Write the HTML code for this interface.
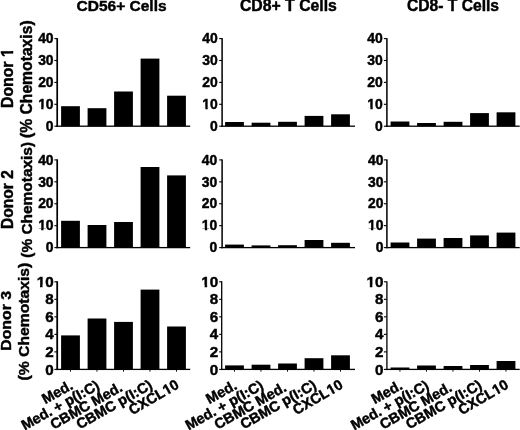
<!DOCTYPE html>
<html><head><meta charset="utf-8"><title>Chemotaxis</title>
<style>
html,body{margin:0;padding:0;background:#fff;}
body{width:520px;height:430px;overflow:hidden;}
svg{display:block;font-family:"Liberation Sans",sans-serif;font-weight:bold;fill:#000;}
text{font-kerning:none;stroke:#000;stroke-width:0.45px;stroke-linejoin:round;}
</style></head><body>
<svg width="520" height="430" viewBox="0 0 520 430">
<rect x="0" y="0" width="520" height="430" fill="#fff"/>
<text x="121.6" y="11.4" font-size="15.5" text-anchor="middle">CD56+ Cells</text>
<text x="288.4" y="11.0" font-size="15.8" text-anchor="middle">CD8+ T Cells</text>
<text x="453" y="10.8" font-size="15.65" text-anchor="middle">CD8- T Cells</text>
<text transform="translate(12.9,108.0) rotate(-90)" font-size="15.8" text-anchor="start">Donor 1</text>
<g transform="translate(12.9,108.0) rotate(-90)" fill="#fff"><rect x="50.90" y="-2.11" width="3.47" height="3.31"/><rect x="56.98" y="-2.11" width="3.17" height="3.31"/></g>
<text transform="translate(31.7,79.2) rotate(-90)" font-size="15.7" text-anchor="middle">(% Chemotaxis)</text>
<rect x="56.35" y="38.10" width="1.7" height="88.75"/>
<rect x="56.35" y="125.55" width="133.85" height="1.3"/>
<rect x="54.40" y="125.65" width="2.8" height="1.1"/>
<text x="53.60" y="130.90" font-size="13.9" text-anchor="end">0</text>
<rect x="54.40" y="103.75" width="2.8" height="1.1"/>
<text x="53.60" y="109.00" font-size="13.9" text-anchor="end">10</text>
<g transform="translate(53.60,109.00)" fill="#fff"><rect x="-15.59" y="-1.92" width="3.15" height="3.12"/><rect x="-10.09" y="-1.92" width="2.87" height="3.12"/></g>
<rect x="54.40" y="81.85" width="2.8" height="1.1"/>
<text x="53.60" y="87.10" font-size="13.9" text-anchor="end">20</text>
<rect x="54.40" y="59.95" width="2.8" height="1.1"/>
<text x="53.60" y="65.20" font-size="13.9" text-anchor="end">30</text>
<rect x="54.40" y="38.05" width="2.8" height="1.1"/>
<text x="53.60" y="43.30" font-size="13.9" text-anchor="end">40</text>
<rect x="61.10" y="106.20" width="18.8" height="20.00"/>
<rect x="87.60" y="108.20" width="18.8" height="18.00"/>
<rect x="114.10" y="91.50" width="18.8" height="34.70"/>
<rect x="140.60" y="58.60" width="18.8" height="67.60"/>
<rect x="167.10" y="95.70" width="18.8" height="30.50"/>
<rect x="221.35" y="38.10" width="1.5" height="88.75"/>
<rect x="221.25" y="125.55" width="133.75" height="1.3"/>
<rect x="219.20" y="125.65" width="2.8" height="1.1"/>
<text x="217.80" y="130.90" font-size="13.9" text-anchor="end">0</text>
<rect x="219.20" y="103.75" width="2.8" height="1.1"/>
<text x="217.80" y="109.00" font-size="13.9" text-anchor="end">10</text>
<g transform="translate(217.80,109.00)" fill="#fff"><rect x="-15.59" y="-1.92" width="3.15" height="3.12"/><rect x="-10.09" y="-1.92" width="2.87" height="3.12"/></g>
<rect x="219.20" y="81.85" width="2.8" height="1.1"/>
<text x="217.80" y="87.10" font-size="13.9" text-anchor="end">20</text>
<rect x="219.20" y="59.95" width="2.8" height="1.1"/>
<text x="217.80" y="65.20" font-size="13.9" text-anchor="end">30</text>
<rect x="219.20" y="38.05" width="2.8" height="1.1"/>
<text x="217.80" y="43.30" font-size="13.9" text-anchor="end">40</text>
<rect x="225.10" y="122.00" width="18.8" height="4.20"/>
<rect x="251.60" y="122.70" width="18.8" height="3.50"/>
<rect x="278.10" y="121.80" width="18.8" height="4.40"/>
<rect x="304.60" y="115.90" width="18.8" height="10.30"/>
<rect x="331.10" y="114.30" width="18.8" height="11.90"/>
<rect x="386.15" y="38.10" width="1.5" height="88.75"/>
<rect x="385.95" y="125.55" width="133.75" height="1.3"/>
<rect x="383.90" y="125.65" width="2.8" height="1.1"/>
<text x="382.80" y="130.90" font-size="13.9" text-anchor="end">0</text>
<rect x="383.90" y="103.75" width="2.8" height="1.1"/>
<text x="382.80" y="109.00" font-size="13.9" text-anchor="end">10</text>
<g transform="translate(382.80,109.00)" fill="#fff"><rect x="-15.59" y="-1.92" width="3.15" height="3.12"/><rect x="-10.09" y="-1.92" width="2.87" height="3.12"/></g>
<rect x="383.90" y="81.85" width="2.8" height="1.1"/>
<text x="382.80" y="87.10" font-size="13.9" text-anchor="end">20</text>
<rect x="383.90" y="59.95" width="2.8" height="1.1"/>
<text x="382.80" y="65.20" font-size="13.9" text-anchor="end">30</text>
<rect x="383.90" y="38.05" width="2.8" height="1.1"/>
<text x="382.80" y="43.30" font-size="13.9" text-anchor="end">40</text>
<rect x="390.60" y="121.50" width="18.8" height="4.70"/>
<rect x="417.10" y="123.00" width="18.8" height="3.20"/>
<rect x="443.60" y="121.80" width="18.8" height="4.40"/>
<rect x="470.10" y="113.10" width="18.8" height="13.10"/>
<rect x="496.60" y="112.30" width="18.8" height="13.90"/>
<text transform="translate(12.9,229.0) rotate(-90)" font-size="15.6" text-anchor="start">Donor 2</text>
<text transform="translate(31.7,199.8) rotate(-90)" font-size="15.45" text-anchor="middle">(% Chemotaxis)</text>
<rect x="56.35" y="159.40" width="1.7" height="88.85"/>
<rect x="56.35" y="246.95" width="133.85" height="1.3"/>
<rect x="54.40" y="247.05" width="2.8" height="1.1"/>
<text x="53.60" y="252.30" font-size="13.9" text-anchor="end">0</text>
<rect x="54.40" y="225.12" width="2.8" height="1.1"/>
<text x="53.60" y="230.38" font-size="13.9" text-anchor="end">10</text>
<g transform="translate(53.60,230.38)" fill="#fff"><rect x="-15.59" y="-1.92" width="3.15" height="3.12"/><rect x="-10.09" y="-1.92" width="2.87" height="3.12"/></g>
<rect x="54.40" y="203.20" width="2.8" height="1.1"/>
<text x="53.60" y="208.45" font-size="13.9" text-anchor="end">20</text>
<rect x="54.40" y="181.27" width="2.8" height="1.1"/>
<text x="53.60" y="186.52" font-size="13.9" text-anchor="end">30</text>
<rect x="54.40" y="159.35" width="2.8" height="1.1"/>
<text x="53.60" y="164.60" font-size="13.9" text-anchor="end">40</text>
<rect x="61.10" y="220.80" width="18.8" height="26.80"/>
<rect x="87.60" y="225.00" width="18.8" height="22.60"/>
<rect x="114.10" y="222.00" width="18.8" height="25.60"/>
<rect x="140.60" y="167.00" width="18.8" height="80.60"/>
<rect x="167.10" y="175.40" width="18.8" height="72.20"/>
<rect x="221.35" y="159.40" width="1.5" height="88.85"/>
<rect x="221.25" y="246.95" width="133.75" height="1.3"/>
<rect x="219.20" y="247.05" width="2.8" height="1.1"/>
<text x="217.30" y="252.30" font-size="13.9" text-anchor="end">0</text>
<rect x="219.20" y="225.12" width="2.8" height="1.1"/>
<text x="217.30" y="230.38" font-size="13.9" text-anchor="end">10</text>
<g transform="translate(217.30,230.38)" fill="#fff"><rect x="-15.59" y="-1.92" width="3.15" height="3.12"/><rect x="-10.09" y="-1.92" width="2.87" height="3.12"/></g>
<rect x="219.20" y="203.20" width="2.8" height="1.1"/>
<text x="217.30" y="208.45" font-size="13.9" text-anchor="end">20</text>
<rect x="219.20" y="181.27" width="2.8" height="1.1"/>
<text x="217.30" y="186.52" font-size="13.9" text-anchor="end">30</text>
<rect x="219.20" y="159.35" width="2.8" height="1.1"/>
<text x="217.30" y="164.60" font-size="13.9" text-anchor="end">40</text>
<rect x="225.10" y="244.60" width="18.8" height="3.00"/>
<rect x="251.60" y="245.40" width="18.8" height="2.20"/>
<rect x="278.10" y="245.20" width="18.8" height="2.40"/>
<rect x="304.60" y="240.00" width="18.8" height="7.60"/>
<rect x="331.10" y="242.80" width="18.8" height="4.80"/>
<rect x="386.15" y="159.40" width="1.5" height="88.85"/>
<rect x="385.95" y="246.95" width="133.75" height="1.3"/>
<rect x="383.90" y="247.05" width="2.8" height="1.1"/>
<text x="383.40" y="252.30" font-size="13.9" text-anchor="end">0</text>
<rect x="383.90" y="225.12" width="2.8" height="1.1"/>
<text x="383.40" y="230.38" font-size="13.9" text-anchor="end">10</text>
<g transform="translate(383.40,230.38)" fill="#fff"><rect x="-15.59" y="-1.92" width="3.15" height="3.12"/><rect x="-10.09" y="-1.92" width="2.87" height="3.12"/></g>
<rect x="383.90" y="203.20" width="2.8" height="1.1"/>
<text x="383.40" y="208.45" font-size="13.9" text-anchor="end">20</text>
<rect x="383.90" y="181.27" width="2.8" height="1.1"/>
<text x="383.40" y="186.52" font-size="13.9" text-anchor="end">30</text>
<rect x="383.90" y="159.35" width="2.8" height="1.1"/>
<text x="383.40" y="164.60" font-size="13.9" text-anchor="end">40</text>
<rect x="390.60" y="242.50" width="18.8" height="5.10"/>
<rect x="417.10" y="238.60" width="18.8" height="9.00"/>
<rect x="443.60" y="238.00" width="18.8" height="9.60"/>
<rect x="470.10" y="235.40" width="18.8" height="12.20"/>
<rect x="496.60" y="232.60" width="18.8" height="15.00"/>
<text transform="translate(11.0,350.7) rotate(-90) scale(1,0.93)" font-size="15.8" text-anchor="start">Donor 3</text>
<text transform="translate(29.1,321.6) rotate(-90) scale(1,0.93)" font-size="15.7" text-anchor="middle">(% Chemotaxis)</text>
<rect x="56.30" y="281.30" width="1.8" height="88.75"/>
<rect x="56.30" y="368.75" width="133.90" height="1.3"/>
<rect x="54.40" y="368.85" width="2.8" height="1.1"/>
<text x="53.60" y="374.50" font-size="15.2" text-anchor="end">0</text>
<rect x="54.40" y="351.33" width="2.8" height="1.1"/>
<text x="53.60" y="356.98" font-size="15.2" text-anchor="end">2</text>
<rect x="54.40" y="333.81" width="2.8" height="1.1"/>
<text x="53.60" y="339.46" font-size="15.2" text-anchor="end">4</text>
<rect x="54.40" y="316.29" width="2.8" height="1.1"/>
<text x="53.60" y="321.94" font-size="15.2" text-anchor="end">6</text>
<rect x="54.40" y="298.77" width="2.8" height="1.1"/>
<text x="53.60" y="304.42" font-size="15.2" text-anchor="end">8</text>
<rect x="54.40" y="281.25" width="2.8" height="1.1"/>
<text x="53.60" y="286.90" font-size="15.2" text-anchor="end">10</text>
<g transform="translate(53.60,286.90)" fill="#fff"><rect x="-16.95" y="-2.05" width="3.37" height="3.25"/><rect x="-11.05" y="-2.05" width="3.08" height="3.25"/></g>
<rect x="61.10" y="335.40" width="18.8" height="34.00"/>
<rect x="70.00" y="369.40" width="0.9" height="2.3"/>
<text transform="translate(74.00,388.40) rotate(-29)" font-size="14.4" text-anchor="end">Med.</text>
<rect x="87.60" y="318.50" width="18.8" height="50.90"/>
<rect x="96.50" y="369.40" width="0.9" height="2.3"/>
<text transform="translate(100.50,388.40) rotate(-29)" font-size="14.4" text-anchor="end">Med. + p(I:C)</text>
<rect x="114.10" y="321.90" width="18.8" height="47.50"/>
<rect x="123.00" y="369.40" width="0.9" height="2.3"/>
<text transform="translate(123.40,390.30) rotate(-29.5)" font-size="14.4" text-anchor="end">CBMC Med.</text>
<rect x="140.60" y="289.60" width="18.8" height="79.80"/>
<rect x="149.50" y="369.40" width="0.9" height="2.3"/>
<text transform="translate(153.50,387.80) rotate(-29.5)" font-size="14.4" text-anchor="end">CBMC p(I:C)</text>
<rect x="167.10" y="326.50" width="18.8" height="42.90"/>
<rect x="176.00" y="369.40" width="0.9" height="2.3"/>
<text transform="translate(180.00,387.60) rotate(-30)" font-size="14.4" text-anchor="end">CXCL10</text>
<g transform="translate(180.00,387.60) rotate(-30)" fill="#fff"><rect x="-16.11" y="-1.97" width="3.23" height="3.17"/><rect x="-10.46" y="-1.97" width="2.95" height="3.17"/></g>
<rect x="221.05" y="281.30" width="1.3" height="88.75"/>
<rect x="221.35" y="368.75" width="133.65" height="1.3"/>
<rect x="219.20" y="368.85" width="2.8" height="1.1"/>
<text x="218.20" y="374.50" font-size="15.2" text-anchor="end">0</text>
<rect x="219.20" y="351.33" width="2.8" height="1.1"/>
<text x="218.20" y="356.98" font-size="15.2" text-anchor="end">2</text>
<rect x="219.20" y="333.81" width="2.8" height="1.1"/>
<text x="218.20" y="339.46" font-size="15.2" text-anchor="end">4</text>
<rect x="219.20" y="316.29" width="2.8" height="1.1"/>
<text x="218.20" y="321.94" font-size="15.2" text-anchor="end">6</text>
<rect x="219.20" y="298.77" width="2.8" height="1.1"/>
<text x="218.20" y="304.42" font-size="15.2" text-anchor="end">8</text>
<rect x="219.20" y="281.25" width="2.8" height="1.1"/>
<text x="218.20" y="286.90" font-size="15.2" text-anchor="end">10</text>
<g transform="translate(218.20,286.90)" fill="#fff"><rect x="-16.95" y="-2.05" width="3.37" height="3.25"/><rect x="-11.05" y="-2.05" width="3.08" height="3.25"/></g>
<rect x="225.10" y="365.40" width="18.8" height="4.00"/>
<rect x="234.00" y="369.40" width="0.9" height="2.3"/>
<text transform="translate(238.00,388.40) rotate(-29)" font-size="14.4" text-anchor="end">Med.</text>
<rect x="251.60" y="364.70" width="18.8" height="4.70"/>
<rect x="260.50" y="369.40" width="0.9" height="2.3"/>
<text transform="translate(264.50,388.40) rotate(-29)" font-size="14.4" text-anchor="end">Med. + p(I:C)</text>
<rect x="278.10" y="363.50" width="18.8" height="5.90"/>
<rect x="287.00" y="369.40" width="0.9" height="2.3"/>
<text transform="translate(287.40,390.30) rotate(-29.5)" font-size="14.4" text-anchor="end">CBMC Med.</text>
<rect x="304.60" y="358.20" width="18.8" height="11.20"/>
<rect x="313.50" y="369.40" width="0.9" height="2.3"/>
<text transform="translate(317.50,387.80) rotate(-29.5)" font-size="14.4" text-anchor="end">CBMC p(I:C)</text>
<rect x="331.10" y="355.30" width="18.8" height="14.10"/>
<rect x="340.00" y="369.40" width="0.9" height="2.3"/>
<text transform="translate(344.00,387.60) rotate(-30)" font-size="14.4" text-anchor="end">CXCL10</text>
<g transform="translate(344.00,387.60) rotate(-30)" fill="#fff"><rect x="-16.11" y="-1.97" width="3.23" height="3.17"/><rect x="-10.46" y="-1.97" width="2.95" height="3.17"/></g>
<rect x="386.25" y="281.30" width="1.3" height="88.75"/>
<rect x="386.05" y="368.75" width="133.65" height="1.3"/>
<rect x="383.90" y="368.85" width="2.8" height="1.1"/>
<text x="383.40" y="374.50" font-size="15.2" text-anchor="end">0</text>
<rect x="383.90" y="351.33" width="2.8" height="1.1"/>
<text x="383.40" y="356.98" font-size="15.2" text-anchor="end">2</text>
<rect x="383.90" y="333.81" width="2.8" height="1.1"/>
<text x="383.40" y="339.46" font-size="15.2" text-anchor="end">4</text>
<rect x="383.90" y="316.29" width="2.8" height="1.1"/>
<text x="383.40" y="321.94" font-size="15.2" text-anchor="end">6</text>
<rect x="383.90" y="298.77" width="2.8" height="1.1"/>
<text x="383.40" y="304.42" font-size="15.2" text-anchor="end">8</text>
<rect x="383.90" y="281.25" width="2.8" height="1.1"/>
<text x="383.40" y="286.90" font-size="15.2" text-anchor="end">10</text>
<g transform="translate(383.40,286.90)" fill="#fff"><rect x="-16.95" y="-2.05" width="3.37" height="3.25"/><rect x="-11.05" y="-2.05" width="3.08" height="3.25"/></g>
<rect x="390.60" y="367.50" width="18.8" height="1.90"/>
<rect x="399.50" y="369.40" width="0.9" height="2.3"/>
<text transform="translate(403.50,388.40) rotate(-29)" font-size="14.4" text-anchor="end">Med.</text>
<rect x="417.10" y="365.50" width="18.8" height="3.90"/>
<rect x="426.00" y="369.40" width="0.9" height="2.3"/>
<text transform="translate(430.00,388.40) rotate(-29)" font-size="14.4" text-anchor="end">Med. + p(I:C)</text>
<rect x="443.60" y="366.00" width="18.8" height="3.40"/>
<rect x="452.50" y="369.40" width="0.9" height="2.3"/>
<text transform="translate(452.90,390.30) rotate(-29.5)" font-size="14.4" text-anchor="end">CBMC Med.</text>
<rect x="470.10" y="365.00" width="18.8" height="4.40"/>
<rect x="479.00" y="369.40" width="0.9" height="2.3"/>
<text transform="translate(483.00,387.80) rotate(-29.5)" font-size="14.4" text-anchor="end">CBMC p(I:C)</text>
<rect x="496.60" y="361.00" width="18.8" height="8.40"/>
<rect x="505.50" y="369.40" width="0.9" height="2.3"/>
<text transform="translate(509.50,387.60) rotate(-30)" font-size="14.4" text-anchor="end">CXCL10</text>
<g transform="translate(509.50,387.60) rotate(-30)" fill="#fff"><rect x="-16.11" y="-1.97" width="3.23" height="3.17"/><rect x="-10.46" y="-1.97" width="2.95" height="3.17"/></g>
</svg></body></html>
